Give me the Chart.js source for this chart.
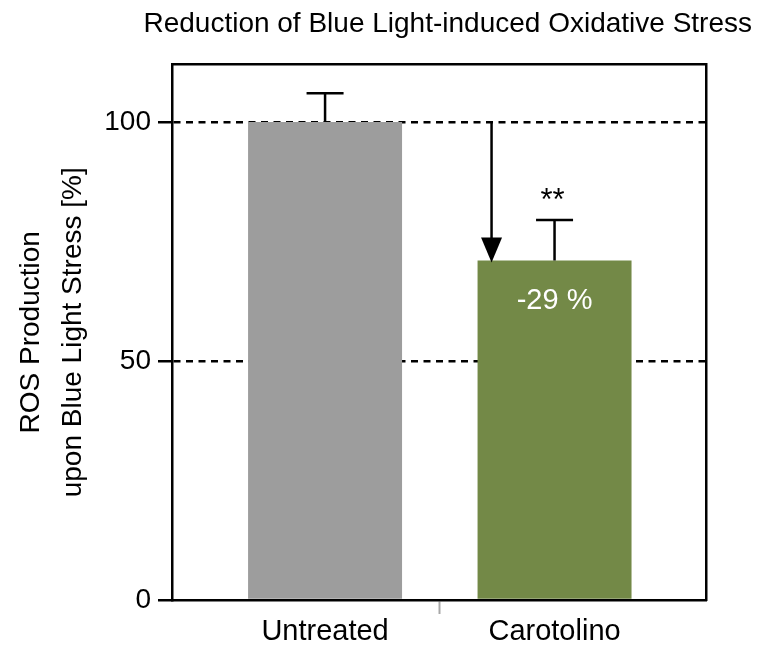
<!DOCTYPE html>
<html>
<head>
<meta charset="utf-8">
<title>ROS Production</title>
<script src="https://cdn.jsdelivr.net/npm/chart.js@4.4.1/dist/chart.umd.min.js"></script>
<style>
  html, body { margin: 0; padding: 0; background: #fff; }
  #wrap { width: 766px; height: 650px; }
</style>
</head>
<body>
<div id="wrap"><canvas id="ros"></canvas></div>
<script>
var categories = ["Untreated", "Carotolino"];
var rosValues = [100, 71];
var rosErrors = [6, 8.5];
var barLabels = ["", "-29 %"];
var significance = ["", "**"];
var yTicks = [0, 50, 100];
var barColors = ["#9d9d9d", "#738947"];

var FONT = "'Liberation Sans', Arial, Helvetica, sans-serif";
Chart.defaults.font.family = FONT;
Chart.defaults.color = "#000";

// error bars, reduction arrow and text on the bars
var extras = {
    id: "extras",
    afterDatasetsDraw: function (chart) {
        var ctx = chart.ctx;
        var y = chart.scales.y;
        var meta = chart.getDatasetMeta(0);
        ctx.save();
        ctx.strokeStyle = "#000";
        ctx.fillStyle = "#000";
        ctx.lineWidth = 2.5;
        ctx.textAlign = "center";
        ctx.textBaseline = "middle";

        for (var i = 0; i < rosValues.length; i++) {
            var bar = meta.data[i];
            var top = y.getPixelForValue(rosValues[i] + rosErrors[i]);
            ctx.beginPath();
            ctx.moveTo(bar.x, bar.y);
            ctx.lineTo(bar.x, top);
            ctx.moveTo(bar.x - 18.5, top);
            ctx.lineTo(bar.x + 18.5, top);
            ctx.stroke();

            if (significance[i]) {
                ctx.fillStyle = "#000";
                ctx.font = "31px " + FONT;
                ctx.fillText(significance[i], bar.x - 2, top - 19);
            }
            if (barLabels[i]) {
                ctx.fillStyle = "#fff";
                ctx.font = "29px " + FONT;
                ctx.fillText(barLabels[i], bar.x, bar.y + 40);
            }
        }

        // arrow from the untreated level down to the treated bar
        var b = meta.data[1];
        var ax = b.x - b.width / 2 + 14;
        var y0 = y.getPixelForValue(rosValues[0]);
        var tip = y.getPixelForValue(rosValues[1]) + 2;
        ctx.strokeStyle = "#000";
        ctx.fillStyle = "#000";
        ctx.beginPath();
        ctx.moveTo(ax, y0);
        ctx.lineTo(ax, tip - 20);
        ctx.stroke();
        ctx.beginPath();
        ctx.moveTo(ax - 10.5, tip - 25);
        ctx.lineTo(ax + 10.5, tip - 25);
        ctx.lineTo(ax, tip);
        ctx.closePath();
        ctx.fill();
        ctx.restore();
    }
};

var ctx = document.getElementById("ros");

new Chart(ctx, {
    type: "bar",
    data: {
        datasets: [{
            label: "ROS",
            data: categories.map(function (c, i) { return { x: i, y: rosValues[i] }; }),
            backgroundColor: barColors,
            borderWidth: 0,
            // the middle tick (0.5) halves the ruler, so this is 0.671 of the bar spacing
            barPercentage: 1.342,
            categoryPercentage: 1
        }]
    },
    options: {
        responsive: true,
        maintainAspectRatio: false,
        animation: false,
        layout: { padding: { left: 0, right: 14, top: 0, bottom: 0 } },
        plugins: {
            legend: { display: false },
            tooltip: { enabled: false },
            title: {
                display: true,
                text: "Reduction of Blue Light-induced Oxidative Stress",
                align: "end",
                color: "#000",
                font: { size: 28, weight: "normal", lineHeight: 1.2 },
                padding: { top: 7, bottom: 24 }
            }
        },
        scales: {
            x: {
                type: "linear",
                min: -0.667,
                max: 1.66,
                offset: false,
                afterBuildTicks: function (s) {
                    s.ticks = [{ value: 0 }, { value: 0.5 }, { value: 1 }];
                },
                afterFit: function (s) { s.height = 50; },
                ticks: {
                    autoSkip: false,
                    maxRotation: 0,
                    padding: 1,
                    color: "#000",
                    font: { size: 29 },
                    callback: function (v) {
                        return (v === 0 || v === 1) ? categories[v] : "";
                    }
                },
                grid: {
                    display: true,
                    offset: false,
                    drawOnChartArea: false,
                    drawTicks: true,
                    tickLength: 14,
                    tickWidth: 2,
                    tickColor: function (c) {
                        return c.tick && c.tick.value === 0.5 ? "#a8a8a8" : "rgba(0,0,0,0)";
                    }
                },
                border: { color: "#000", width: 2.5 }
            },
            x2: {
                type: "linear",
                position: "top",
                display: true,
                afterFit: function (s) { s.height = 0; },
                ticks: { display: false },
                grid: { display: false },
                border: { color: "#000", width: 2.5 }
            },
            y: {
                type: "linear",
                min: 0,
                max: 112,
                afterBuildTicks: function (s) {
                    s.ticks = yTicks.map(function (v) { return { value: v }; });
                },
                afterFit: function (s) { s.width = 172; },
                ticks: {
                    padding: 7,
                    color: "#000",
                    font: { size: 28 }
                },
                grid: {
                    color: function (c) {
                        return c.tick && c.tick.value === 0 ? "rgba(0,0,0,0)" : "#000";
                    },
                    lineWidth: 2.5,
                    tickColor: "#000",
                    tickWidth: 2.5,
                    tickLength: 14,
                    tickBorderDash: []
                },
                border: { color: "#000", width: 2.5, dash: [7, 5.5] },
                title: {
                    display: true,
                    text: ["ROS Production", "upon Blue Light Stress [%]"],
                    color: "#000",
                    font: { size: 28, lineHeight: 1.5 },
                    padding: { top: 10, bottom: 0 }
                }
            },
            y2: {
                type: "linear",
                position: "right",
                display: true,
                afterFit: function (s) { s.width = 46; },
                ticks: { display: false },
                grid: { display: false },
                border: { color: "#000", width: 2.5 }
            }
        }
    },
    plugins: [extras]
});
</script>
</body>
</html>
